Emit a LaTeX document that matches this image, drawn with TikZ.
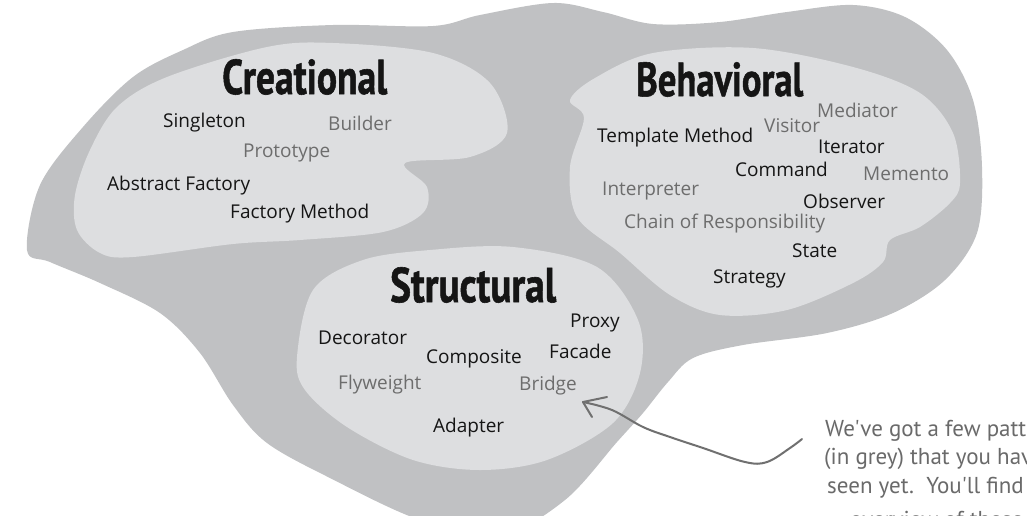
\documentclass[tikz,border=0pt]{standalone}
\usepackage{fontspec}
\usepackage{graphicx}
\usetikzlibrary{arrows.meta}
\newfontfamily\lblfont{Open Sans}
\newfontfamily\ttlfont[FakeBold=1.2]{PT Sans}
\newfontfamily\notefont{PT Sans}
\definecolor{outergrey}{HTML}{C0C1C3}
\definecolor{innergrey}{HTML}{DDDEE0}
\definecolor{textgrey}{HTML}{6D6D6D}
\definecolor{ink}{HTML}{151515}
\definecolor{notegrey}{HTML}{6A6A6A}
\definecolor{arrowgrey}{HTML}{707070}
\tikzset{
  lbl/.style={font=\lblfont\fontsize{19}{19}\selectfont, text=ink, inner sep=0pt, anchor=base west},
  glbl/.style={lbl, text=textgrey},
  ttl/.style={font=\ttlfont\bfseries, text=ink, inner sep=0pt, anchor=south west},
  note/.style={font=\notefont\fontsize{23}{23}\selectfont, text=notegrey, inner sep=0pt, anchor=base west},
  pointer/.style={draw=arrowgrey, line width=2pt, line cap=round, line join=round},
}
\begin{document}
\begin{tikzpicture}[x=1pt,y=-1pt]
\useasboundingbox (0,0) rectangle (1027,515);
\clip (0,0) rectangle (1027,515);
\fill[white] (0,0) rectangle (1027,515);
% outer blob
\fill[outergrey] plot[smooth cycle, tension=0.55] coordinates {
 (27,250) (40,185) (83,127) (133,77) (183,50) (233,32) (333,25) (433,26) (480,15)
 (553,3) (603,12) (653,24) (720,22) (787,12) (853,5) (905,17) (947,50) (973,100)
 (982,167) (977,233) (945,280) (893,313) (827,333) (743,345) (693,358) (668,382)
 (643,413) (617,442) (565,500) (500,535) (420,520) (330,478) (267,443) (233,405)
 (200,353) (160,313) (100,283) (50,262)};
% creational blob
\fill[innergrey] plot[smooth cycle, tension=0.55] coordinates {
 (117,107) (167,77) (267,47) (333,43) (433,53) (490,83) (507,133) (470,157) (405,163)
 (427,187) (423,213) (383,232) (300,240) (233,244) (133,257) (100,253) (77,230)
 (75,195) (90,150)};
% behavioral blob
\fill[innergrey] plot[smooth cycle, tension=0.55] coordinates {
 (570,100) (595,78) (653,53) (753,48) (853,67) (920,93) (953,133) (960,183)
 (950,203) (920,227) (890,240) (883,262) (853,283) (787,310) (720,315) (670,295)
 (620,253) (577,217) (570,167) (584,118)};
% structural blob
\fill[innergrey] plot[smooth cycle, tension=0.55] coordinates {
 (297,357) (313,290) (363,260) (430,250) (513,247) (597,267) (638,320) (640,373)
 (613,423) (547,460) (480,470) (413,460) (347,427) (305,390)};

% titles
\node[ttl] (creational) at (222,95) {\resizebox{165pt}{35pt}{Creational}};
\node[ttl] (behavioral) at (636,97) {\resizebox{167pt}{34pt}{Behavioral}};
\node[ttl] (structural) at (390,303) {\resizebox{166pt}{35pt}{Structural}};

% creational
\node[lbl]  (singleton) at (163,127) {Singleton};
\node[glbl] (builder)   at (328,130) {Builder};
\node[glbl] (prototype) at (243,157) {Prototype};
\node[lbl]  (absfac)    at (107,190) {Abstract Factory};
\node[lbl]  (facmeth)   at (230,218) {Factory Method};

% behavioral
\node[lbl]  (template)  at (597,142) {Template Method};
\node[glbl] (visitor)   at (764,132) {Visitor};
\node[glbl] (mediator)  at (817,117) {Mediator};
\node[lbl]  (iterator)  at (818,153) {Iterator};
\node[lbl]  (command)   at (735,176) {Command};
\node[glbl] (memento)   at (863,180) {Memento};
\node[glbl] (interp)    at (602,195) {Interpreter};
\node[lbl]  (observer)  at (803,208) {Observer};
\node[glbl] (chain)     at (624,228) {Chain of Responsibility};
\node[lbl]  (state)     at (792,257) {State};
\node[lbl]  (strategy)  at (713,283) {Strategy};

% structural
\node[lbl]  (proxy)     at (570,327) {Proxy};
\node[lbl]  (decorator) at (318,344) {Decorator};
\node[lbl]  (composite) at (426,363) {Composite};
\node[lbl]  (facade)    at (549,358) {Facade};
\node[glbl] (flyweight) at (338,389) {Flyweight};
\node[glbl] (bridge)    at (519,390) {Bridge};
\node[lbl]  (adapter)   at (433,432) {Adapter};

% annotation (cut off at the right and bottom edges, as in the reference)
\node[note] (note1) at (825,436) {We've got a few patterns};
\node[note] (note2) at (824,464) {(in grey) that you haven't};
\node[note] (note3) at (827,493) {seen yet.\ \ You'll find an};
\node[note] (note4) at (850,527) {overview of these patterns};

% pointer
\coordinate (arrS) at (802,439);
\coordinate (arrT) at (583,402);
\draw[pointer] plot[smooth, tension=0.6] coordinates {
 (arrS) (790,448) (767,462) (745,462) (703,448) (670,437) (643,427) (612,410) (arrT)};
\draw[pointer] (607,397) -- (arrT) -- (592,417);
\end{tikzpicture}
\end{document}
